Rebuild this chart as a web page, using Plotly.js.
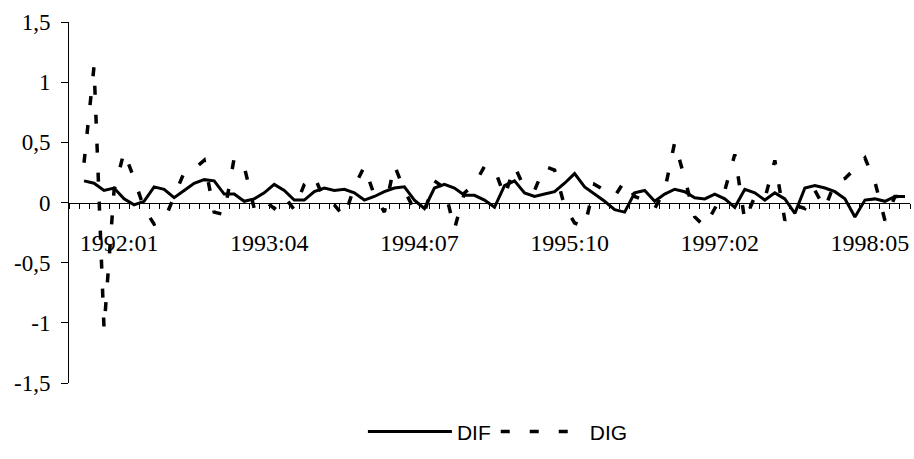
<!DOCTYPE html>
<html><head><meta charset="utf-8">
<script src="https://cdn.plot.ly/plotly-3.0.1.min.js"></script>
<style>html,body{margin:0;padding:0;background:#fff}#chart{width:914px;height:459px}</style>
</head><body><div id="chart"></div>
<script>
// Monthly observations (index 1 = first month shown)
const DIF = [0.18,0.16,0.10,0.12,0.03,-0.02,0.01,0.13,0.11,0.04,
  0.10,0.16,0.19,0.18,0.07,0.07,0.01,0.03,0.08,0.15,
  0.10,0.02,0.02,0.09,0.12,0.10,0.11,0.08,0.02,0.05,
  0.09,0.12,0.13,0.02,-0.05,0.12,0.15,0.12,0.06,0.06,
  0.02,-0.04,0.14,0.18,0.08,0.05,0.07,0.09,0.16,0.24,
  0.13,0.07,0.01,-0.06,-0.08,0.08,0.10,0.01,0.07,0.11,
  0.09,0.04,0.03,0.07,0.03,-0.04,0.11,0.08,0.02,0.08,
  0.03,-0.09,0.12,0.14,0.12,0.09,0.03,-0.12,0.02,0.03,
  0.01,0.05,0.05];
const DIG = [0.33,1.13,-1.05,0.10,0.42,0.20,-0.05,-0.18,-0.15,0.05,
  0.25,0.28,0.35,-0.08,-0.10,0.37,0.30,-0.05,0.02,-0.05,
  0.05,-0.06,0.15,0.22,0.02,-0.02,-0.12,0.13,0.30,0.06,
  -0.08,0.31,0.10,-0.06,-0.08,0.18,0.12,-0.22,0.08,0.15,
  0.30,0.28,0.05,0.30,0.12,0.10,0.30,0.27,-0.03,-0.17,
  -0.20,0.15,0.10,0.05,0.18,0.05,0.02,-0.05,0.10,0.50,
  0.20,-0.12,-0.20,-0.05,0.10,0.40,-0.15,0.05,0.03,0.35,
  -0.15,-0.02,-0.05,0.10,-0.05,0.17,0.20,0.28,0.37,0.17,
  -0.15,0.05,0.05];
const tickLabels = ['1992:01','1993:04','1994:07','1995:10','1997:02','1998:05'];
const tickMonths = [4,19,34,49,64,79];
const yTickVals = [-1.5,-1,-0.5,0,0.5,1,1.5];
const yTickText = ['-1,5','-1','-0,5','0','0,5','1','1,5'];

const xs = DIF.map((_, k) => k + 1);

const traces = [
  {x: xs, y: DIF, name: 'DIF', type: 'scatter', mode: 'lines',
   line: {color: '#000', width: 3}},
  {x: xs, y: DIG, name: 'DIG', type: 'scatter', mode: 'lines',
   line: {color: '#000', width: 3.5, dash: '9px,20px'}}
];

const serif = 'Liberation Serif, Times New Roman, serif';
const layout = {
  width: 914, height: 459,
  margin: {l: 69, r: 4, t: 22, b: 76},
  paper_bgcolor: '#fff', plot_bgcolor: '#fff',
  showlegend: true,
  legend: {orientation: 'h', x: 0.51, xanchor: 'center', y: -0.135, yanchor: 'middle',
           itemwidth: 84,
           font: {family: 'Liberation Sans, Arial, sans-serif', size: 21, color: '#000'},
           bgcolor: 'rgba(0,0,0,0)'},
  xaxis: {range: [-0.5, 83.5], anchor: 'free', position: 0.5,
          showline: true, linecolor: '#000', linewidth: 1,
          showgrid: false, zeroline: false,
          tickmode: 'array', tickvals: tickMonths, ticktext: tickLabels,
          ticks: '', ticklabelshift: 5, ticklabelstandoff: 19,
          tickfont: {family: serif, size: 24, color: '#000'},
          minor: {tickmode: 'linear', tick0: -0.5, dtick: 1, ticks: 'outside',
                  ticklen: 5, tickwidth: 1, tickcolor: '#000', showgrid: false}},
  yaxis: {range: [-1.5, 1.5], showline: true, linecolor: '#000', linewidth: 1,
          showgrid: false, zeroline: false,
          tickmode: 'array', tickvals: yTickVals, ticktext: yTickText,
          ticks: 'outside', ticklen: 7, tickcolor: '#000', ticklabelstandoff: 6,
          tickfont: {family: serif, size: 23, color: '#000'}}
};

Plotly.newPlot('chart', traces, layout, {displayModeBar: false, staticPlot: true});
</script>
</body></html>
